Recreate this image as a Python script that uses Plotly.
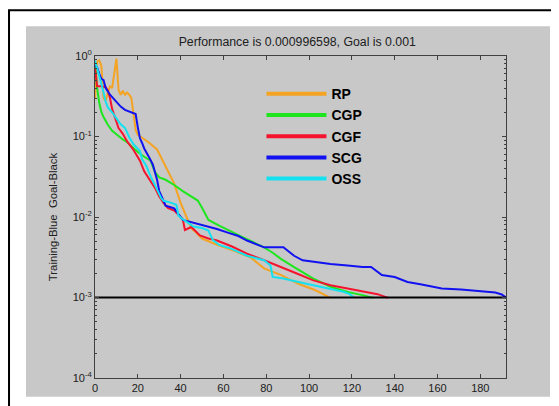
import plotly.graph_objects as go

# ---------------- data (epoch, performance) ----------------
rp_epoch = [0, 1, 2, 3, 4, 5, 6, 7, 8, 9, 10, 11, 12, 13, 14, 15, 16, 17, 18, 19, 20, 22, 25, 29, 32, 34, 37, 40, 43, 45, 47, 50, 57, 65, 73, 79, 87, 95, 103, 110]
rp_perf = [0.30, 0.85, 0.88, 0.75, 0.30, 0.28, 0.35, 0.42, 0.40, 0.60, 0.93, 0.38, 0.33, 0.37, 0.33, 0.35, 0.33, 0.30, 0.20, 0.12, 0.105, 0.097, 0.085, 0.069, 0.047, 0.037, 0.026, 0.015, 0.0094, 0.0072, 0.0065, 0.0054, 0.0045, 0.0038, 0.0031, 0.0023, 0.0019, 0.00148, 0.00123, 0.00099]

cgp_epoch = [0, 1, 2, 3, 4, 6, 8, 10, 13, 15, 18, 20, 23, 26, 28, 30, 33, 37, 41, 45, 48, 50, 53, 58, 63, 68, 73, 79, 83, 87, 94, 102, 110, 118, 125, 130]
cgp_perf = [0.84, 0.40, 0.26, 0.20, 0.175, 0.14, 0.118, 0.106, 0.092, 0.085, 0.072, 0.064, 0.056, 0.050, 0.036, 0.031, 0.029, 0.025, 0.021, 0.018, 0.016, 0.013, 0.0092, 0.0078, 0.0068, 0.0058, 0.0050, 0.0042, 0.0036, 0.0030, 0.0023, 0.00172, 0.00136, 0.00117, 0.00107, 0.00099]

cgf_epoch = [0, 1, 3, 5, 6, 7, 8, 9, 11, 13, 15, 18, 21, 23, 26, 28, 30, 32, 34, 37, 41, 42, 45, 49, 53, 57, 64, 71, 79, 87, 94, 102, 110, 118, 126, 132, 137]
cgf_perf = [0.70, 0.42, 0.42, 0.41, 0.37, 0.30, 0.22, 0.18, 0.127, 0.108, 0.087, 0.068, 0.050, 0.037, 0.028, 0.023, 0.018, 0.015, 0.013, 0.012, 0.0094, 0.0069, 0.0075, 0.0059, 0.0054, 0.0051, 0.0043, 0.0035, 0.0029, 0.0024, 0.0020, 0.00163, 0.00142, 0.00129, 0.00118, 0.0011, 0.00099]

scg_epoch = [0, 1, 2, 3, 4, 5, 7, 8, 10, 12, 14, 17, 19, 20, 21, 22, 23, 25, 27, 29, 30, 32, 33, 35, 37, 41, 46, 52, 57, 62, 67, 71, 75, 79, 88, 93, 97, 102, 110, 118, 125, 129, 134, 140, 146, 152, 162, 171, 179, 187, 190, 192]
scg_perf = [0.77, 0.72, 0.60, 0.52, 0.50, 0.40, 0.33, 0.31, 0.27, 0.235, 0.214, 0.20, 0.19, 0.13, 0.095, 0.083, 0.071, 0.057, 0.045, 0.029, 0.021, 0.016, 0.0138, 0.0133, 0.0128, 0.0092, 0.0085, 0.0078, 0.0071, 0.0064, 0.0058, 0.0051, 0.0046, 0.0042, 0.0042, 0.0033, 0.0029, 0.00276, 0.0026, 0.0025, 0.0024, 0.0024, 0.0019, 0.0018, 0.00156, 0.00146, 0.00129, 0.00126, 0.0012, 0.00115, 0.00109, 0.000997]

oss_epoch = [0, 1, 2, 3, 4, 5, 6, 8, 10, 12, 14, 15, 16, 18, 21, 22, 24, 26, 29, 31, 32, 35, 38, 39, 41, 44, 46, 50, 53, 55, 58, 63, 67, 71, 79, 82, 83, 88, 95, 102, 110, 116, 119, 121]
oss_perf = [0.88, 0.72, 0.55, 0.45, 0.35, 0.27, 0.23, 0.20, 0.168, 0.142, 0.128, 0.11, 0.098, 0.080, 0.066, 0.052, 0.043, 0.032, 0.022, 0.017, 0.0159, 0.0152, 0.0142, 0.0104, 0.0094, 0.0084, 0.0076, 0.0073, 0.0068, 0.0052, 0.0045, 0.0041, 0.0037, 0.0033, 0.0029, 0.0025, 0.0018, 0.00172, 0.00156, 0.00142, 0.00129, 0.00118, 0.0011, 0.00099]

goal = 0.001
max_epoch = 192
performance_text = "0.000996598"

series_names = ["RP", "CGP", "CGF", "SCG", "OSS"]
series_colors = ["#f4a323", "#1ee61e", "#f5142d", "#1212f0", "#14e1f0"]

x_ticks = [0, 20, 40, 60, 80, 100, 120, 140, 160, 180]
y_ticks = [1e-4, 1e-3, 1e-2, 1e-1, 1e0]
y_tick_labels = ["10<sup>-4</sup>", "10<sup>-3</sup>", "10<sup>-2</sup>", "10<sup>-1</sup>", "10<sup>0</sup>"]

# ---------------- figure ----------------
FONT = "Liberation Sans, Arial, sans-serif"
epochs = [rp_epoch, cgp_epoch, cgf_epoch, scg_epoch, oss_epoch]
perfs = [rp_perf, cgp_perf, cgf_perf, scg_perf, oss_perf]

fig = go.Figure()
for name, color, ex, pf in zip(series_names, series_colors, epochs, perfs):
    fig.add_trace(go.Scatter(x=ex, y=pf, mode="lines", name=name,
                             line=dict(color=color, width=2),
                             showlegend=False, hoverinfo="skip"))

fig.add_trace(go.Scatter(x=[0, max_epoch], y=[goal, goal], mode="lines",
                         line=dict(color="black", width=2),
                         showlegend=False, hoverinfo="skip"))

# legend entries (thicker lines, like the reference)
for name, color in zip(series_names, series_colors):
    fig.add_trace(go.Scatter(x=[None], y=[None], mode="lines", name=name,
                             line=dict(color=color, width=4)))

minor_vals = [m * 10.0 ** e for e in range(-4, 0) for m in range(2, 10)]

W, H = 551, 398  # page has an 8px body margin inside the 559x406 window

fig.update_layout(
    width=W, height=H,
    margin=dict(l=87, r=53, t=48, b=26),
    paper_bgcolor="white",
    plot_bgcolor="white",
    font=dict(family=FONT, size=11, color="#202020"),
    title=dict(text=f"Performance is {performance_text}, Goal is {goal}",
               x=0.525, xanchor="center", y=1 - 34 / H, yanchor="middle",
               font=dict(size=12.3, color="#202020")),
    showlegend=True,
    legend=dict(x=0.405, y=0.931, xanchor="left", yanchor="top",
                bgcolor="rgba(0,0,0,0)", borderwidth=0,
                font=dict(size=14, color="black", family=FONT, weight="bold"),
                itemwidth=60, tracegroupgap=0),
    xaxis=dict(range=[0, max_epoch], tickvals=x_ticks, ticks="inside",
               ticklen=4, tickcolor="#404040", showline=True,
               linecolor="#404040", linewidth=1, mirror="allticks",
               showgrid=False, zeroline=False,
               tickfont=dict(size=11, color="#202020")),
    yaxis=dict(type="log", range=[-4, 0], tickvals=y_ticks,
               ticktext=y_tick_labels, ticks="inside", ticklen=4,
               tickcolor="#404040", showline=True, linecolor="#404040",
               linewidth=1, mirror="allticks", showgrid=False,
               zeroline=False, tickfont=dict(size=11, color="#202020"),
               minor=dict(tickvals=minor_vals, ticks="inside", ticklen=2,
                          tickcolor="#404040", showgrid=False),
               title=dict(text="Training-Blue\u00a0 Goal-Black",
                          font=dict(size=11.3, color="#202020"), standoff=12)),
    shapes=[
        # grey figure background
        dict(type="rect", xref="paper", yref="paper",
             x0=-0.1679, x1=1.107, y0=-0.0586, y1=1.0926,
             fillcolor="#c8c8c8", line=dict(width=0), layer="below"),
        # black outer frame
        dict(type="rect", xref="paper", yref="paper",
             x0=-0.2092, x1=1.18, y0=-0.12, y1=1.142,
             fillcolor="rgba(0,0,0,0)", line=dict(color="black", width=2),
             layer="below"),
    ],
)

fig.write_html("out.html")
